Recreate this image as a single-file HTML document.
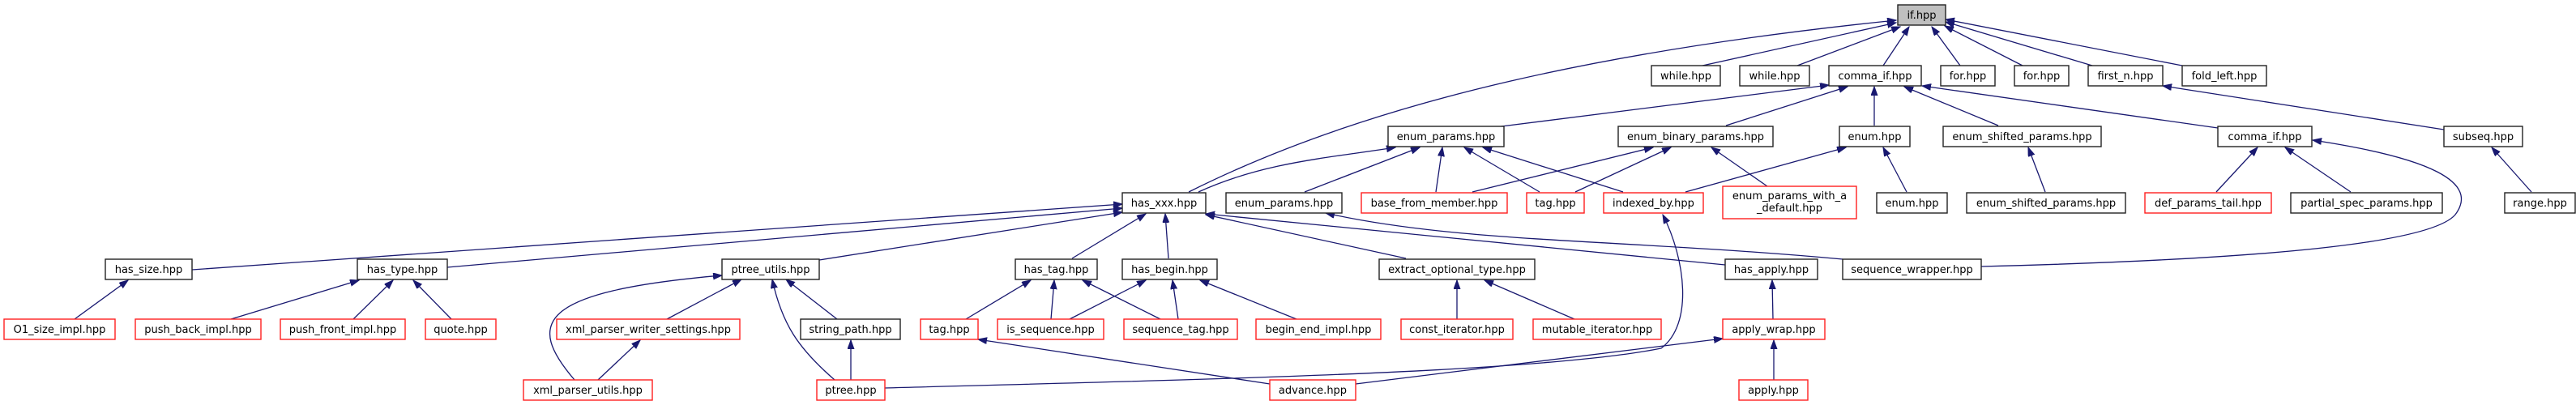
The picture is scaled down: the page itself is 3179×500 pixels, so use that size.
<!DOCTYPE html>
<html><head><meta charset="utf-8"><style>
html,body{margin:0;padding:0;background:#fff;}
svg{display:block;}
text{font-family:"DejaVu Sans","Liberation Sans",sans-serif;font-size:13px;fill:#000;}
.b{fill:#fff;stroke:#222;stroke-width:1.4;}
.r{fill:#fff;stroke:#ff2020;stroke-width:1.4;}
.g{fill:#bfbfbf;stroke:#222;stroke-width:1.4;}
.e{fill:none;stroke:#191970;stroke-width:1.3;marker-end:url(#a);}
</style></head><body>
<svg width="3179" height="500" viewBox="0 0 3179 500" xmlns="http://www.w3.org/2000/svg">
<defs><marker id="a" markerUnits="userSpaceOnUse" markerWidth="12" markerHeight="9" refX="11" refY="4" orient="auto"><path d="M0,0 L11,4 L0,8 z" fill="#191970" stroke="#191970"/></marker></defs>
<g>
<path class="e" d="M1467,237 C1700,120 2000,60 2340,25"/>
<path class="e" d="M2101,81 L2340,28"/>
<path class="e" d="M2218,81 L2345,33"/>
<path class="e" d="M2324,81 L2356,33"/>
<path class="e" d="M2419,81 L2384,33"/>
<path class="e" d="M2496,81 L2400,32"/>
<path class="e" d="M2582,81 L2401,27"/>
<path class="e" d="M2693,81 L2401,24"/>
<path class="e" d="M1845,157 L2257,105"/>
<path class="e" d="M2130,155 L2280,107"/>
<path class="e" d="M2313,155 L2313,107"/>
<path class="e" d="M2466,155 L2350,107"/>
<path class="e" d="M2737,158 L2372,106"/>
<path class="e" d="M2735,237 L2786,182"/>
<path class="e" d="M2901,237 L2820,182"/>
<path class="e" d="M2445,329 C2800,320 3000,300 3030,265 C3060,225 3000,195 2854,173"/>
<path class="e" d="M3124,237 L3075,182"/>
<path class="e" d="M3016,160 L2669,106"/>
<path class="e" d="M1479,237 C1560,200 1640,195 1722,182"/>
<path class="e" d="M1610,237 L1752,182"/>
<path class="e" d="M1772,237 L1780,182"/>
<path class="e" d="M1900,237 L1807,182"/>
<path class="e" d="M2003,237 L1830,182"/>
<path class="e" d="M1817,237 L2040,182"/>
<path class="e" d="M1944,237 L2062,182"/>
<path class="e" d="M2181,230 L2112,182"/>
<path class="e" d="M2080,237 L2278,182"/>
<path class="e" d="M2353,237 L2324,182"/>
<path class="e" d="M2524,237 L2503,182"/>
<path class="e" d="M237,333 L1385,252"/>
<path class="e" d="M552,330 L1385,257"/>
<path class="e" d="M1011,321 L1385,262"/>
<path class="e" d="M1323,319 L1414,264"/>
<path class="e" d="M1442,319 L1438,264"/>
<path class="e" d="M1735,319 L1488,265"/>
<path class="e" d="M2129,327 L1488,264"/>
<path class="e" d="M2274,320 C2000,295 1800,300 1636,263"/>
<path class="e" d="M823,394 L915,345"/>
<path class="e" d="M709,469 C650,400 660,360 891,340"/>
<path class="e" d="M1030,469 C985,430 965,400 953,345"/>
<path class="e" d="M1033,394 L970,345"/>
<path class="e" d="M738,469 L790,420"/>
<path class="e" d="M1050,469 L1050,420"/>
<path class="e" d="M1192,394 L1272,346"/>
<path class="e" d="M1297,394 L1301,346"/>
<path class="e" d="M1432,394 L1336,346"/>
<path class="e" d="M1320,394 L1414,346"/>
<path class="e" d="M1454,394 L1447,346"/>
<path class="e" d="M1600,394 L1481,346"/>
<path class="e" d="M1567,474 L1207,419"/>
<path class="e" d="M1798,394 L1798,346"/>
<path class="e" d="M1943,394 L1832,346"/>
<path class="e" d="M2188,394 L2187,346"/>
<path class="e" d="M2189,469 L2189,420"/>
<path class="e" d="M1673,474 L2126,418"/>
<path class="e" d="M1092,479 C1500,468 1900,460 2050,430 C2090,400 2080,320 2052,265"/>
<path class="e" d="M92,394 L158,346"/>
<path class="e" d="M285,394 L443,346"/>
<path class="e" d="M436,394 L485,346"/>
<path class="e" d="M557,394 L510,346"/>
</g>
<g>
<rect class="g" x="2342" y="6" width="59" height="25"/><text x="2371.5" y="23" text-anchor="middle">if.hpp</text>
<rect class="b" x="2038" y="81" width="85" height="25"/><text x="2080.5" y="98" text-anchor="middle">while.hpp</text>
<rect class="b" x="2147" y="81" width="86" height="25"/><text x="2190" y="98" text-anchor="middle">while.hpp</text>
<rect class="b" x="2257" y="81" width="114" height="25"/><text x="2314" y="98" text-anchor="middle">comma_if.hpp</text>
<rect class="b" x="2395" y="81" width="67" height="25"/><text x="2428.5" y="98" text-anchor="middle">for.hpp</text>
<rect class="b" x="2486" y="81" width="67" height="25"/><text x="2519.5" y="98" text-anchor="middle">for.hpp</text>
<rect class="b" x="2577" y="81" width="92" height="25"/><text x="2623" y="98" text-anchor="middle">first_n.hpp</text>
<rect class="b" x="2693" y="81" width="104" height="25"/><text x="2745" y="98" text-anchor="middle">fold_left.hpp</text>
<rect class="b" x="1713" y="156" width="143" height="25"/><text x="1784.5" y="173" text-anchor="middle">enum_params.hpp</text>
<rect class="b" x="1997" y="156" width="191" height="25"/><text x="2092.5" y="173" text-anchor="middle">enum_binary_params.hpp</text>
<rect class="b" x="2270" y="156" width="87" height="25"/><text x="2313.5" y="173" text-anchor="middle">enum.hpp</text>
<rect class="b" x="2398" y="156" width="195" height="25"/><text x="2495.5" y="173" text-anchor="middle">enum_shifted_params.hpp</text>
<rect class="b" x="2737" y="156" width="116" height="25"/><text x="2795" y="173" text-anchor="middle">comma_if.hpp</text>
<rect class="b" x="3016" y="156" width="97" height="25"/><text x="3064.5" y="173" text-anchor="middle">subseq.hpp</text>
<rect class="b" x="1385" y="238" width="103" height="25"/><text x="1436.5" y="255" text-anchor="middle">has_xxx.hpp</text>
<rect class="b" x="1513" y="238" width="143" height="25"/><text x="1584.5" y="255" text-anchor="middle">enum_params.hpp</text>
<rect class="r" x="1680" y="238" width="180" height="25"/><text x="1770" y="255" text-anchor="middle">base_from_member.hpp</text>
<rect class="r" x="1884" y="238" width="71" height="25"/><text x="1919.5" y="255" text-anchor="middle">tag.hpp</text>
<rect class="r" x="1979" y="238" width="123" height="25"/><text x="2040.5" y="255" text-anchor="middle">indexed_by.hpp</text>
<rect class="r" x="2126" y="230" width="165" height="40"/><text x="2208.5" y="246" text-anchor="middle">enum_params_with_a</text><text x="2208.5" y="261" text-anchor="middle">_default.hpp</text>
<rect class="b" x="2316" y="238" width="87" height="25"/><text x="2359.5" y="255" text-anchor="middle">enum.hpp</text>
<rect class="b" x="2427" y="238" width="196" height="25"/><text x="2525" y="255" text-anchor="middle">enum_shifted_params.hpp</text>
<rect class="r" x="2647" y="238" width="156" height="25"/><text x="2725" y="255" text-anchor="middle">def_params_tail.hpp</text>
<rect class="b" x="2827" y="238" width="187" height="25"/><text x="2920.5" y="255" text-anchor="middle">partial_spec_params.hpp</text>
<rect class="b" x="3091" y="238" width="87" height="25"/><text x="3134.5" y="255" text-anchor="middle">range.hpp</text>
<rect class="b" x="130" y="320" width="107" height="25"/><text x="183.5" y="337" text-anchor="middle">has_size.hpp</text>
<rect class="b" x="441" y="320" width="111" height="25"/><text x="496.5" y="337" text-anchor="middle">has_type.hpp</text>
<rect class="b" x="891" y="320" width="120" height="25"/><text x="951" y="337" text-anchor="middle">ptree_utils.hpp</text>
<rect class="b" x="1253" y="320" width="101" height="25"/><text x="1303.5" y="337" text-anchor="middle">has_tag.hpp</text>
<rect class="b" x="1385" y="320" width="117" height="25"/><text x="1443.5" y="337" text-anchor="middle">has_begin.hpp</text>
<rect class="b" x="1702" y="320" width="192" height="25"/><text x="1798" y="337" text-anchor="middle">extract_optional_type.hpp</text>
<rect class="b" x="2129" y="320" width="114" height="25"/><text x="2186" y="337" text-anchor="middle">has_apply.hpp</text>
<rect class="b" x="2274" y="320" width="171" height="25"/><text x="2359.5" y="337" text-anchor="middle">sequence_wrapper.hpp</text>
<rect class="r" x="5" y="394" width="137" height="25"/><text x="73.5" y="411" text-anchor="middle">O1_size_impl.hpp</text>
<rect class="r" x="167" y="394" width="155" height="25"/><text x="244.5" y="411" text-anchor="middle">push_back_impl.hpp</text>
<rect class="r" x="346" y="394" width="154" height="25"/><text x="423" y="411" text-anchor="middle">push_front_impl.hpp</text>
<rect class="r" x="525" y="394" width="87" height="25"/><text x="568.5" y="411" text-anchor="middle">quote.hpp</text>
<rect class="r" x="687" y="394" width="226" height="25"/><text x="800" y="411" text-anchor="middle">xml_parser_writer_settings.hpp</text>
<rect class="b" x="988" y="394" width="123" height="25"/><text x="1049.5" y="411" text-anchor="middle">string_path.hpp</text>
<rect class="r" x="1136" y="394" width="71" height="25"/><text x="1171.5" y="411" text-anchor="middle">tag.hpp</text>
<rect class="r" x="1231" y="394" width="131" height="25"/><text x="1296.5" y="411" text-anchor="middle">is_sequence.hpp</text>
<rect class="r" x="1387" y="394" width="140" height="25"/><text x="1457" y="411" text-anchor="middle">sequence_tag.hpp</text>
<rect class="r" x="1550" y="394" width="154" height="25"/><text x="1627" y="411" text-anchor="middle">begin_end_impl.hpp</text>
<rect class="r" x="1729" y="394" width="138" height="25"/><text x="1798" y="411" text-anchor="middle">const_iterator.hpp</text>
<rect class="r" x="1892" y="394" width="158" height="25"/><text x="1971" y="411" text-anchor="middle">mutable_iterator.hpp</text>
<rect class="r" x="2126" y="394" width="126" height="25"/><text x="2189" y="411" text-anchor="middle">apply_wrap.hpp</text>
<rect class="r" x="646" y="469" width="159" height="25"/><text x="725.5" y="486" text-anchor="middle">xml_parser_utils.hpp</text>
<rect class="r" x="1008" y="469" width="84" height="25"/><text x="1050" y="486" text-anchor="middle">ptree.hpp</text>
<rect class="r" x="1567" y="469" width="106" height="25"/><text x="1620" y="486" text-anchor="middle">advance.hpp</text>
<rect class="r" x="2146" y="469" width="85" height="25"/><text x="2188.5" y="486" text-anchor="middle">apply.hpp</text>
</g>
</svg>
</body></html>
